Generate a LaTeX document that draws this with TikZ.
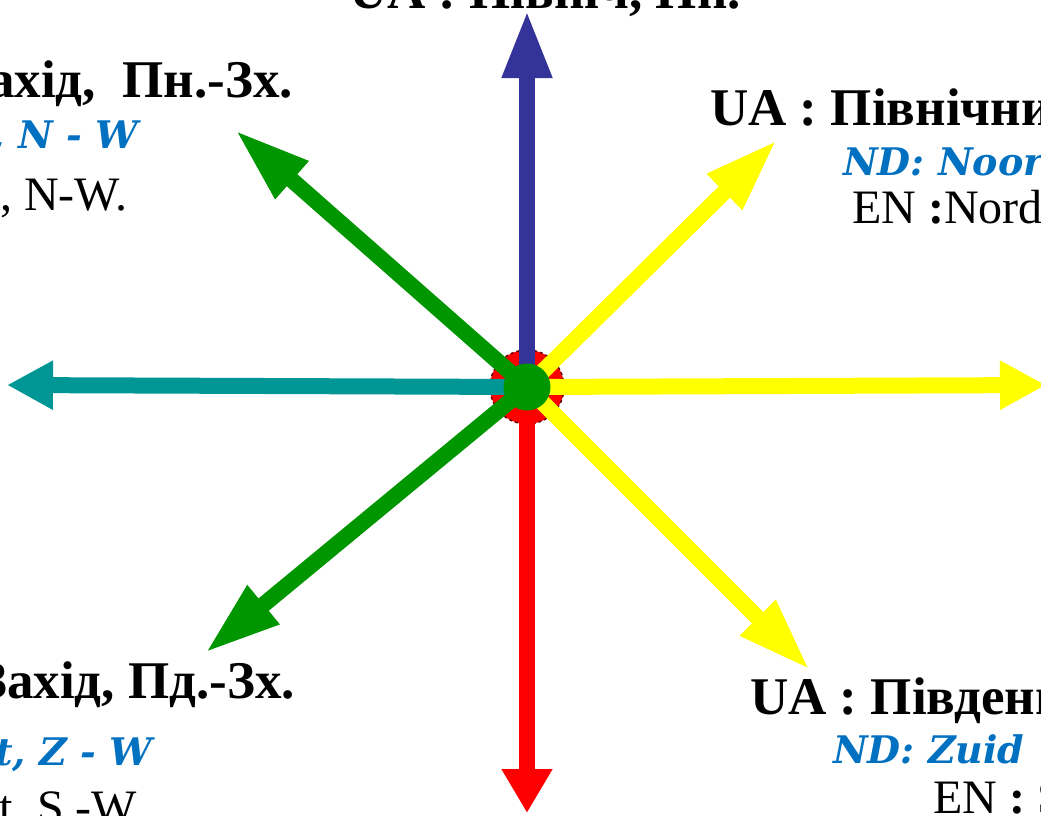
\documentclass[tikz,border=0pt]{standalone}
\usepackage{fontspec}
\setmainfont{Liberation Serif}
\newfontfamily\ndfont{DejaVu Serif}
\usetikzlibrary{arrows.meta}

\definecolor{northblue}{RGB}{51,51,153}
\definecolor{westteal}{RGB}{0,150,150}
\definecolor{diaggreen}{RGB}{0,150,0}
\definecolor{eastyellow}{RGB}{255,255,0}
\definecolor{ndblue}{RGB}{0,112,192}

\tikzset{
  ray/.style={line width=16pt},
  ualabel/.style={inner sep=0pt, font=\fontsize{53}{56}\selectfont\bfseries},
  ndlabel/.style={inner sep=0pt, text=ndblue, font=\fontsize{38}{42}\selectfont\ndfont\bfseries\itshape},
  enlabel/.style={inner sep=0pt, font=\fontsize{48}{50}\selectfont},
}

\begin{document}
\begin{tikzpicture}[x=1pt,y=-1pt]
  \useasboundingbox (0,0) rectangle (1041,815);
  \clip (0,0) rectangle (1041,815);
  %
  \node[circle, fill=red, draw=red!40!black, dashed, line width=1.5pt, minimum size=74pt] (hub) at (527,387) {};
  %
  \coordinate (n) at (527,10);
  \coordinate (s) at (527,813);
  \coordinate (w) at (7,385);
  \coordinate (e) at (1046,385);
  \coordinate (ne) at (777,140);
  \coordinate (se) at (810,670);
  \coordinate (nw) at (235,130);
  \coordinate (sw) at (205,653);
  %
  \draw[ray, eastyellow, -{Triangle[length=46pt,width=46pt]}] (hub.center) -- (e);
  \draw[ray, eastyellow, -{Triangle[length=74pt,width=46pt]}] (hub.center) -- (ne);
  \draw[ray, eastyellow, -{Triangle[length=74pt,width=46pt]}] (hub.center) -- (se);
  \draw[ray, westteal, -{Triangle[length=46pt,width=46pt]}] (hub.center) -- (w);
  \draw[ray, red, -{Triangle[length=44pt,width=48pt]}] (hub.center) -- (s);
  \draw[ray, northblue, -{Triangle[length=68pt,width=46pt]}] (hub.center) -- (n);
  \draw[ray, diaggreen, -{Triangle[length=76pt,width=46pt]}] (hub.center) -- (nw);
  \draw[ray, diaggreen, -{Triangle[length=76pt,width=46pt]}] (hub.center) -- (sw);
  %
  \node[circle, fill=diaggreen, minimum size=47pt, inner sep=0pt] (core) at (hub) {};
  %
  \node[ualabel, anchor=base] (ntext) at (545,8) {UA : Північ, Пн.};
  %
  \node[ualabel, anchor=base east] (nwua) at (293,97) {UA : Північний Захід,\hspace{0.25em} Пн.-Зх.};
  \node[ndlabel, anchor=base east] (nwnd) at (138,148) {ND: Noordwest, N - W};
  \node[enlabel, anchor=base east] (nwen) at (128,210) {EN : North-West, N-W.};
  %
  \node[ualabel, anchor=base west] (neua) at (710,125) {UA : Північний Схід, Пн.-Сх.};
  \node[ndlabel, anchor=base west] (nend) at (843,175) {ND: Noordoost, N - O};
  \node[enlabel, anchor=base west] (neen) at (852,223) {EN \textbf{:}Nord-East, N-E.};
  %
  \node[ualabel, anchor=base east] (swua) at (295,698) {UA : Південний Захід, Пд.-Зх.};
  \node[ndlabel, anchor=base east] (swnd) at (152,765) {ND: Zuidwest, Z - W};
  \node[enlabel, anchor=base east] (swen) at (145,823) {EN : South-West, S -W.};
  %
  \node[ualabel, anchor=base west] (seua) at (750,714) {UA : Південний Схід, Пд.-Сх.};
  \node[ndlabel, anchor=base west] (send) at (833,763) {ND: Zuid\hspace{0.6em}oost, Z - O};
  \node[enlabel, anchor=base west] (seen) at (933,813) {EN \textbf{:} South-East, S-E.};
  %
\end{tikzpicture}
\end{document}
